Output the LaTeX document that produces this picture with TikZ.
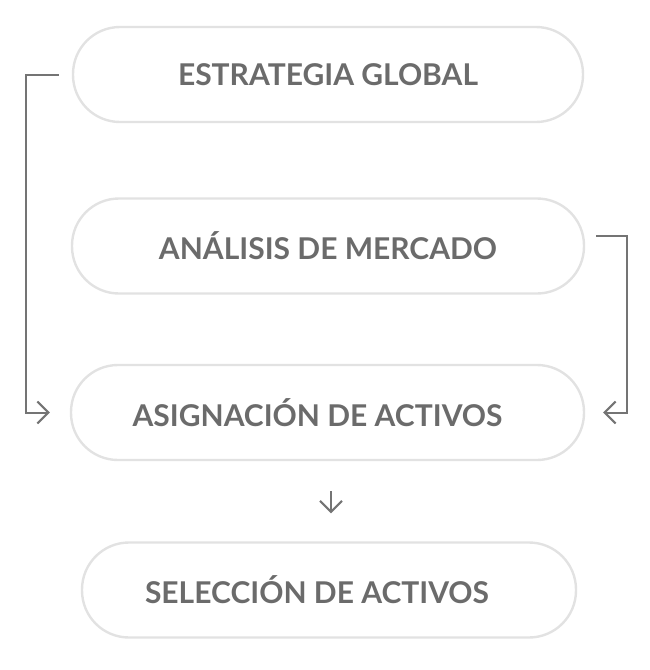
\documentclass[tikz,border=0pt]{standalone}
\usepackage{fontspec}
\setmainfont{Lato}
\usetikzlibrary{arrows.meta, positioning}
\definecolor{boxgray}{HTML}{E2E2E2}
\definecolor{txtgray}{HTML}{6B6B6B}
\definecolor{linegray}{HTML}{747474}

\begin{document}
\begin{tikzpicture}[x=1pt, y=-1pt,
            stage/.style={rectangle, draw=boxgray, line width=2.4pt, rounded corners=47pt, minimum height=95pt, text=txtgray, font=\fontsize{30}{33}\selectfont\bfseries},
            arrow/.style={-{Straight Barb[length=11pt, width=22pt]}, linegray, line width=2pt}
        ]
            \useasboundingbox (0,0) rectangle (649,670);

            \node[stage, minimum width=510pt] (G) at (328,74.5) {ESTRATEGIA GLOBAL};
            \node[stage, minimum width=512pt] (M) at (328,246) {ANÁLISIS DE MERCADO};
            \node[stage, minimum width=513pt] (A) at (327.5,412.5) {ASIGNACIÓN DE ACTIVOS\kern20pt};
            \node[stage, minimum width=494pt] (S) at (329,590) {SELECCIÓN DE ACTIVOS\kern24pt};

            \draw[arrow] ([xshift=-13pt]G.west) -- ++(-33,0) |- ([xshift=-20pt]A.west);
            \draw[arrow] ([xshift=11pt, yshift=10.5pt]M.east) -- ++(31,0) |- ([xshift=18pt]A.east);
            \draw[arrow] ([xshift=3.5pt, yshift=-30pt]A.south) -- ([xshift=2pt, yshift=28pt]S.north);

        \end{tikzpicture}
\end{document}
